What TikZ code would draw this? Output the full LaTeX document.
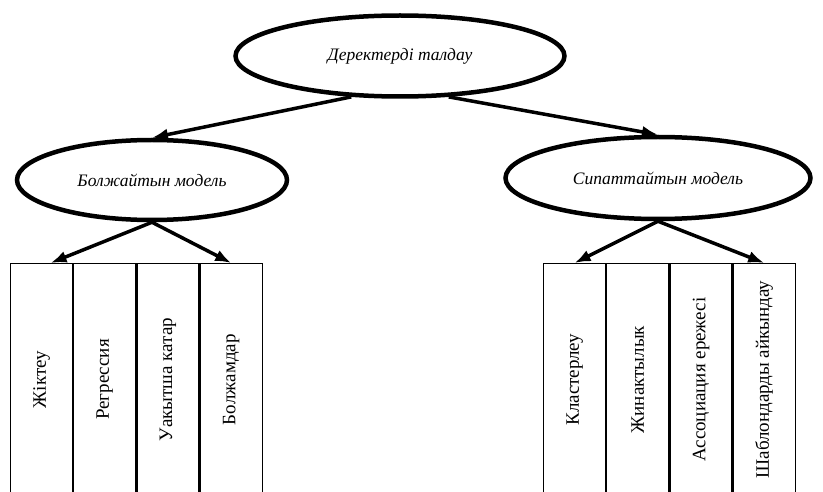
\documentclass[tikz,border=0pt]{standalone}
\usepackage{fontspec}
\setmainfont{Liberation Serif}
\usepackage{graphicx}
\usetikzlibrary{positioning,shapes.geometric,arrows.meta}

\begin{document}
\begin{tikzpicture}[x=1pt,y=-1pt,
            ovalnode/.style={ellipse, draw=black, line width=4.5pt, inner sep=0pt, font=\fontsize{17.5}{19}\selectfont\itshape},
            colnode/.style={rectangle, draw=black, line width=1.2pt, minimum width=62pt, minimum height=232pt, inner sep=0pt, font=\fontsize{19}{21}\selectfont},
            arrow/.style={line width=3.5pt, -{Latex[length=16pt,width=12pt]}},
        ]
        \useasboundingbox (0,0) rectangle (823,492);
        \clip (0,0) rectangle (823,492);

        \node[ovalnode, minimum width=329pt, minimum height=81pt] (data) at (400,56) {Деректерді талдау};
        \node[ovalnode, minimum width=270pt, minimum height=80pt] (bolj) at (152,180) {Болжайтын модель};
        \node[ovalnode, minimum width=305pt, minimum height=82pt] (sip) at (658,178) {Сипаттайтын модель};

        % left columns
        \node[colnode, anchor=north west] (zh) at (10,263) {\rotatebox{90}{Жіктеу}};
        \node[colnode] (regr) [right=0pt of zh] {\rotatebox{90}{Регрессия}};
        \node[colnode] (uaq) [right=0pt of regr] {\rotatebox{90}{Уакытша катар}};
        \node[colnode] (boljam) [right=0pt of uaq] {\rotatebox{90}{Болжамдар}};

        % right columns
        \node[colnode, anchor=north west] (klas) at (543,263) {\rotatebox{90}{Кластерлеу}};
        \node[colnode] (zhin) [right=0pt of klas] {\rotatebox{90}{Жинактылык}};
        \node[colnode] (assoc) [right=0pt of zhin] {\rotatebox{90}{Ассоциация ережесі}};
        \node[colnode] (shab) [right=0pt of assoc] {\rotatebox{90}{Шаблондарды айкындау}};

        \draw[arrow] (data.220) -- (bolj.north);
        \draw[arrow] (data.320) -- (sip.north);
        \draw[arrow] (bolj.south) -- ([xshift=9pt]zh.north);
        \draw[arrow] (bolj.south) -- (boljam.north);
        \draw[arrow] (sip.south) -- (klas.north);
        \draw[arrow] (sip.south) -- (shab.north);

    \end{tikzpicture}
\end{document}
